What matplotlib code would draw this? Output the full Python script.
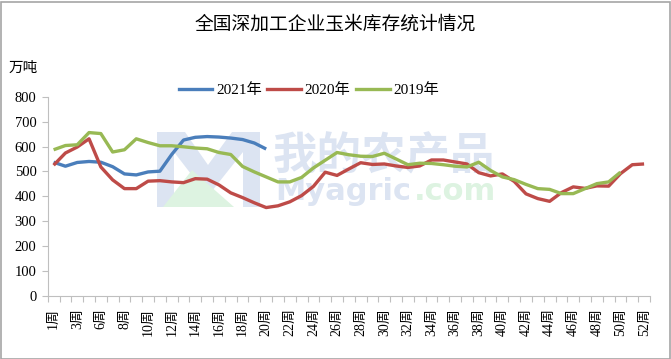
import numpy as np
import matplotlib
matplotlib.use("Agg")
import matplotlib.pyplot as plt
from matplotlib.patches import Rectangle, Polygon
from matplotlib.lines import Line2D

plt.rcParams['font.family'] = ['Liberation Serif', 'Noto Sans CJK SC', 'DejaVu Sans']

# ---------------- data ----------------
week_numbers = [1, 2, 3, 4, 6, 7, 8, 9, 10, 11, 12, 13, 14, 15, 16, 17, 18, 19, 20,
                21, 22, 23, 24, 25, 26, 27, 28, 29, 30, 31, 32, 33, 34, 35, 36, 37,
                38, 39, 40, 41, 42, 43, 44, 45, 46, 47, 48, 49, 50, 51, 52]
week_labels = [f"{w}周" for w in week_numbers]

series_names = ["2021年", "2020年", "2019年"]
v2021 = [537, 521, 536, 540, 537, 519, 490, 486, 498, 501, 568, 626, 637, 640,
         638, 634, 628, 614, 590]
v2020 = [525, 574, 598, 631, 518, 466, 431, 431, 461, 463, 458, 455, 471, 469,
         446, 414, 395, 374, 355, 362, 378, 403, 440, 497, 484, 510, 535, 528,
         530, 522, 516, 522, 546, 546, 538, 530, 495, 482, 490, 460, 410, 391,
         380, 415, 438, 432, 442, 441, 491, 527, 530]
v2019 = [587, 604, 607, 656, 652, 578, 587, 631, 616, 603, 603, 599, 594, 591,
         576, 568, 520, 498, 478, 458, 458, 476, 514, 545, 576, 567, 561, 560,
         573, 550, 527, 533, 532, 527, 521, 518, 537, 504, 478, 467, 448, 431,
         428, 411, 411, 431, 451, 458, 497]
colors = ["#4A7EBB", "#BE4B48", "#98B954"]
yticks = [0, 100, 200, 300, 400, 500, 600, 700, 800]

# ---------------- figure ----------------
W, H = 671, 359
fig = plt.figure(figsize=(W / 100, H / 100), dpi=100)
fig.patch.set_facecolor("white")


def fx(px):
    return px / W


def fy(py):
    return 1 - py / H


# watermark (faint, behind the chart)
wm_blue = "#DCE4F2"
wm_green = "#DDF3E1"
fig.text(fx(384), fy(156), "我的农产品", family=["Noto Sans CJK SC"],
         fontsize=32, fontweight="bold", color=wm_blue, ha="center", va="center", zorder=0)
fig.text(fx(275), fy(200), "Myagric", family=["DejaVu Sans"],
         fontsize=22, fontweight="bold", color=wm_blue, ha="left", va="baseline", zorder=0)
fig.text(fx(414), fy(200), ".com", family=["DejaVu Sans"],
         fontsize=22, fontweight="bold", color=wm_green, ha="left", va="baseline", zorder=0)
m_pts = [(157, 207), (157, 132), (185, 132), (208, 165), (232, 132), (260, 132),
         (260, 207), (243, 207), (243, 152), (208, 196), (174, 152), (174, 207)]
fig.patches.append(Polygon([(fx(a), fy(b)) for a, b in m_pts], closed=True,
                           transform=fig.transFigure, fc=wm_blue, ec="none", zorder=0))
tri_pts = [(163, 207), (192, 170), (234, 207)]
fig.patches.append(Polygon([(fx(a), fy(b)) for a, b in tri_pts], closed=True,
                           transform=fig.transFigure, fc=wm_green, ec="none", zorder=0))

ax = fig.add_axes([fx(47.7), fy(296), (650 - 47.7) / W, (296 - 96.7) / H])
ax.set_facecolor("none")
ax.set_zorder(5)

x_all = np.arange(len(week_labels))
for vals, c, name in zip([v2021, v2020, v2019], colors, series_names):
    ax.plot(x_all[:len(vals)], vals, color=c, lw=2.4, solid_joinstyle="round",
            solid_capstyle="butt", label=name, zorder=3)

ax.set_xlim(-0.5, len(week_labels) - 0.5)
ax.set_ylim(0, 800)
ax.set_yticks(yticks)
ax.set_yticklabels([str(v) for v in yticks], fontsize=10.5)

ax.set_xticks(np.arange(-0.5, len(week_labels), 1), minor=True)
ax.set_xticks(x_all[::2])
ax.set_xticklabels(week_labels[::2], rotation=90, fontsize=10)
ax.tick_params(axis="x", which="major", length=0, pad=9)
ax.tick_params(axis="x", which="minor", length=4, color="#BFBFBF", width=0.8)
ax.tick_params(axis="y", which="major", length=4, color="#BFBFBF", width=0.8, pad=4)

for s in ["top", "right"]:
    ax.spines[s].set_visible(False)
for s in ["left", "bottom"]:
    ax.spines[s].set_color("#BFBFBF")
    ax.spines[s].set_linewidth(0.8)

# title and unit
fig.text(fx(335), fy(25), "全国深加工企业玉米库存统计情况", fontsize=13.5,
         ha="center", va="center")
fig.text(fx(9), fy(68), "万吨", fontsize=10.5, ha="left", va="center")

handles = [Line2D([0], [0], color=c, lw=2.4) for c in colors]
fig.legend(handles, series_names, loc="center", bbox_to_anchor=(fx(309), fy(90)),
           ncol=3, frameon=False, fontsize=11, handlelength=2.2, handletextpad=0.25,
           columnspacing=0.35, borderaxespad=0, borderpad=0)

fig.patches.append(Rectangle((0.5 / W, 0.5 / H), (W - 2) / W, (H - 2) / H,
                             transform=fig.transFigure, fill=False, ec="#A6A6A6", lw=1.2))

fig.savefig("out.png", dpi=100)
